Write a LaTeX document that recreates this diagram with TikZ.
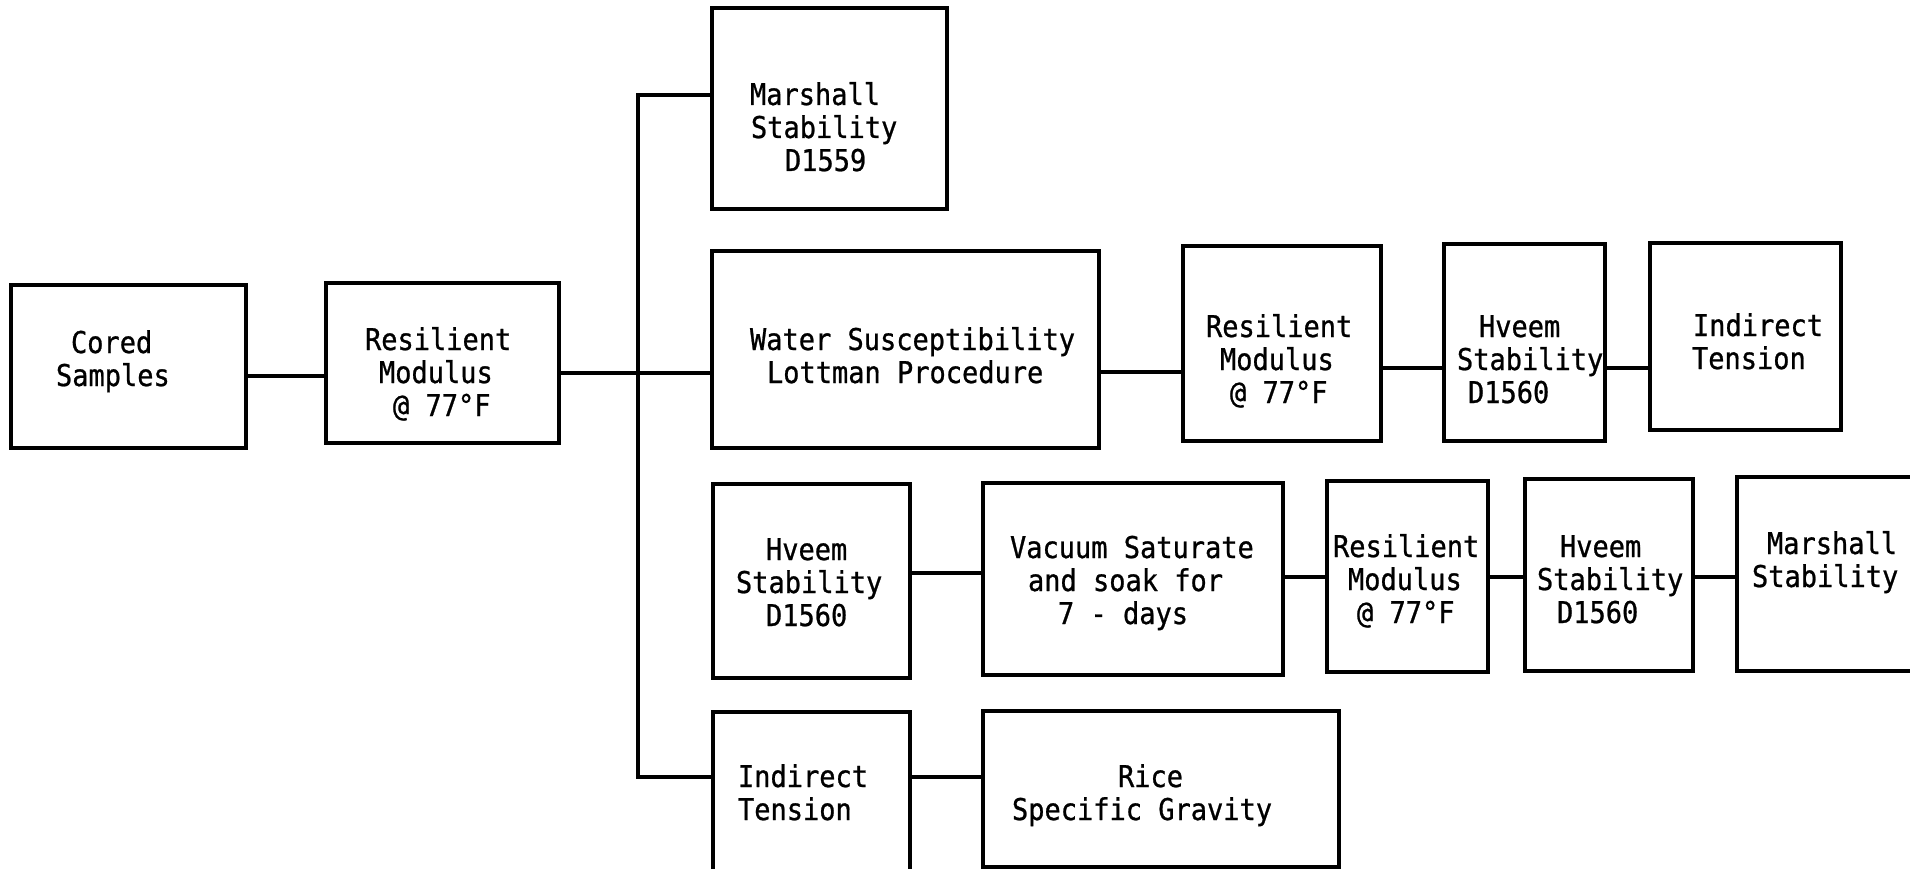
\documentclass[tikz,border=0pt]{standalone}
\usepackage{fontspec}
\newfontfamily\twfont[FakeStretch=0.9,FakeBold=0.8]{DejaVu Sans Mono}
\newcommand\mystrut{\rule{0pt}{24pt}}
\begin{document}
\begin{tikzpicture}[x=1pt,y=-1pt,
  box/.style={draw, line width=3.4pt, inner sep=0pt, outer sep=0pt},
  lbl/.style={font=\twfont\fontsize{30}{33}\selectfont, align=left, anchor=north west, inner sep=0pt, outer sep=0pt, yshift=2pt},
  conn/.style={line width=3.2pt}]
\useasboundingbox (0,0) rectangle (1910,869);
\fill[white] (0,0) rectangle (1910,869);
\clip (0,0) rectangle (1910,869);

% boxes
\node[box, minimum width=235pt, minimum height=163pt] (cored) at (128.5,366.5) {};
\node[box, minimum width=233pt, minimum height=160pt] (res1) at (442.5,363) {};
\node[box, minimum width=235pt, minimum height=201pt] (ms1) at (829.5,108.5) {};
\node[box, minimum width=387pt, minimum height=197pt] (water) at (905.5,349.5) {};
\node[box, minimum width=198pt, minimum height=195pt] (res2) at (1282,343.5) {};
\node[box, minimum width=161pt, minimum height=197pt] (hv2) at (1524.5,342.5) {};
\node[box, minimum width=191pt, minimum height=187pt] (it1) at (1745.5,336.5) {};
\node[box, minimum width=197pt, minimum height=194pt] (hv3) at (811.5,581) {};
\node[box, minimum width=300pt, minimum height=192pt] (vac) at (1133,579) {};
\node[box, minimum width=161pt, minimum height=191pt] (res3) at (1407.5,576.5) {};
\node[box, minimum width=168pt, minimum height=192pt] (hv4) at (1609,575) {};
\node[box, minimum width=198pt, minimum height=194pt] (ms2) at (1836,574) {};
\node[box, minimum width=197pt, minimum height=183pt] (it2) at (811.5,803.5) {};
\node[box, minimum width=356pt, minimum height=156pt] (rice) at (1161,789) {};

% texts
\node[lbl] (tcored) at (56,331) {\mystrut\hspace*{15pt}Cored\\Samples};
\node[lbl] (tres1) at (365,328) {\mystrut Resilient\\\hspace*{14pt}Modulus\\\hspace*{28pt}@ 77°F};
\node[lbl] (tms1) at (750,83) {\mystrut Marshall\\\hspace*{1pt}Stability\\\hspace*{35pt}D1559};
\node[lbl] (twater) at (750,328) {\mystrut Water Susceptibility\\\hspace*{17pt}Lottman Procedure};
\node[lbl] (tres2) at (1206,315) {\mystrut Resilient\\\hspace*{14pt}Modulus\\\hspace*{24pt}@ 77°F};
\node[lbl] (thv2) at (1457,315) {\mystrut\hspace*{22pt}Hveem\\Stability\\\hspace*{11pt}D1560};
\node[lbl] (tit1) at (1692,314) {\mystrut\hspace*{1pt}Indirect\\Tension};
\node[lbl] (thv3) at (736,538) {\mystrut\hspace*{30pt}Hveem\\Stability\\\hspace*{30pt}D1560};
\node[lbl] (tvac) at (1010,536) {\mystrut Vacuum Saturate\\\hspace*{18pt}and soak for\\\hspace*{48pt}7 - days};
\node[lbl] (tres3) at (1333,535) {\mystrut Resilient\\\hspace*{15pt}Modulus\\\hspace*{24pt}@ 77°F};
\node[lbl] (thv4) at (1537,535) {\mystrut\hspace*{23pt}Hveem\\Stability\\\hspace*{20pt}D1560};
\node[lbl] (tms2) at (1752,532) {\mystrut\hspace*{15pt}Marshall\\Stability};
\node[lbl] (tit2) at (738,765) {\mystrut Indirect\\Tension};
\node[lbl] (trice) at (1012,765) {\mystrut\hspace*{106pt}Rice\\Specific Gravity};

% connector levels
\coordinate (yA) at (0,376);
\coordinate (yB) at (0,373);
\coordinate (bus) at (638,0);
\coordinate (yM) at (0,95);
\coordinate (yC) at (0,372);
\coordinate (yD) at (0,368);
\coordinate (yE) at (0,573);
\coordinate (yG) at (0,577);
\coordinate (yF) at (0,777);

% connectors
\draw[conn] (cored.east |- yA) -- (res1.west |- yA);
\draw[conn] (res1.east |- yB) -- (water.west |- yB);
\draw[conn] (ms1.west |- yM) -- (bus |- yM) -- (bus |- yF) -- (it2.west |- yF);
\draw[conn] (water.east |- yC) -- (res2.west |- yC);
\draw[conn] (res2.east |- yD) -- (hv2.west |- yD);
\draw[conn] (hv2.east |- yD) -- (it1.west |- yD);
\draw[conn] (hv3.east |- yE) -- (vac.west |- yE);
\draw[conn] (vac.east |- yG) -- (res3.west |- yG);
\draw[conn] (res3.east |- yG) -- (hv4.west |- yG);
\draw[conn] (hv4.east |- yG) -- (ms2.west |- yG);
\draw[conn] (it2.east |- yF) -- (rice.west |- yF);
\end{tikzpicture}
\end{document}
